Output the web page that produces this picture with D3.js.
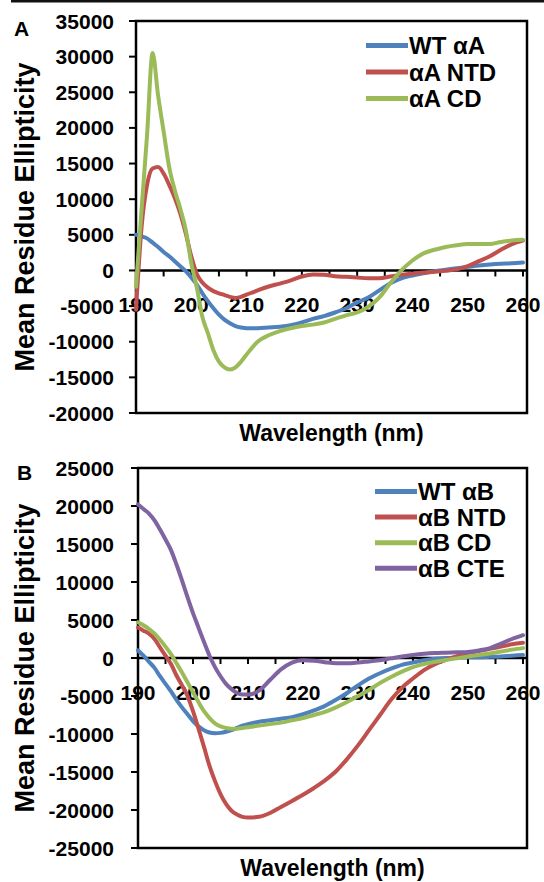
<!DOCTYPE html>
<html>
<head>
<meta charset="utf-8">
<script src="https://cdn.jsdelivr.net/npm/d3@7"></script>
<style>
  body { margin: 0; background: #fff; }
  svg { display: block; font-family: "Liberation Sans", Arial, sans-serif; font-weight: bold; }
</style>
</head>
<body>
<div id="chart"></div>
<script>
// wavelengths (nm) shared by every series
const wavelengths = [190, 191, 192, 193, 194, 195, 196, 197, 198, 199, 200, 201, 202, 203, 204, 205, 206, 207, 208, 209,
  210, 212, 214, 216, 218, 220, 222, 224, 226, 228, 230, 232, 234, 236, 238, 240, 242, 244, 246, 248, 250, 252, 254, 256, 258, 260];

// panel A
const wtA = [5000, 4800, 4500, 3900, 3300, 2600, 2000, 1300, 600, -100, -1000, -2000, -3200, -4300, -5300, -6200, -6900, -7400, -7800, -8000,
  -8100, -8100, -8000, -7900, -7700, -7300, -6800, -6400, -5900, -5300, -4500, -3800, -2800, -1800, -1100, -700, -400, -100, 100, 300, 500, 700, 850, 950, 1000, 1100];
const ntdA = [-5500, 6000, 12000, 14300, 14500, 13600, 12000, 10200, 8000, 5200, 2000, -500, -1700, -2400, -2900, -3200, -3450, -3700, -3850, -3700,
  -3400, -2800, -2250, -1850, -1400, -850, -550, -600, -800, -900, -1000, -1100, -1100, -850, -600, -450, -300, -200, -50, 150, 600, 1300, 2000, 2900, 3700, 4200];
const cdA = [-2300, 8500, 19000, 30500, 24500, 19500, 14500, 11300, 8700, 5700, 1000, -2400, -6500, -8800, -11200, -12800, -13600, -13900, -13600, -12800,
  -11800, -10000, -9100, -8500, -8100, -7800, -7600, -7300, -6800, -6300, -5900, -5100, -3800, -1800, 0, 1400, 2400, 2900, 3300, 3550, 3700, 3700, 3700, 4000, 4200, 4300];

// panel B
const wtB = [1000, 300, -500, -1300, -2400, -3400, -4400, -5500, -6500, -7400, -8300, -9000, -9500, -9800, -9900, -9850, -9700, -9500, -9200, -8900,
  -8700, -8400, -8200, -8000, -7800, -7400, -6900, -6300, -5500, -4600, -3600, -2700, -2000, -1400, -900, -600, -300, -100, 0, 50, 100, 100, 150, 200, 300, 400];
const ntdB = [4000, 3600, 3200, 2500, 1400, 300, -800, -2300, -3600, -5000, -7000, -9300, -11700, -14200, -16200, -17900, -19200, -20100, -20600, -20900,
  -21000, -20900, -20400, -19600, -18800, -18000, -17100, -16100, -14900, -13300, -11500, -9500, -7500, -5500, -3900, -2700, -1600, -800, -250, 250, 600, 900, 1200, 1500, 1800, 2000];
const cdB = [4700, 4300, 3800, 3200, 2400, 1500, 500, -700, -1900, -3200, -4500, -5800, -7000, -7900, -8600, -9000, -9200, -9300, -9300, -9200,
  -9100, -8900, -8700, -8500, -8200, -7900, -7500, -7100, -6500, -5800, -5000, -4200, -3300, -2500, -1800, -1200, -800, -500, -250, -50, 200, 400, 600, 850, 1100, 1300];
const cteB = [20200, 19600, 19000, 18100, 16900, 15600, 14200, 12300, 10200, 8000, 5900, 4000, 2100, 300, -1200, -2400, -3400, -4100, -4600, -4800,
  -4800, -4300, -2900, -1500, -600, -300, -350, -550, -700, -700, -600, -450, -300, -50, 200, 400, 550, 650, 700, 750, 800, 1000, 1300, 1900, 2500, 3000];

const namesA = ["WT αA", "αA NTD", "αA CD"];
const namesB = ["WT αB", "αB NTD", "αB CD", "αB CTE"];
const colors = ["#4F81BD", "#C0504D", "#9BBB59", "#8064A2"];

const xTicks = [190, 200, 210, 220, 230, 240, 250, 260];
const xMinorTicks = d3.range(190, 261, 5);
const yTicksA = [35000, 30000, 25000, 20000, 15000, 10000, 5000, 0, -5000, -10000, -15000, -20000];
const yTicksB = [25000, 20000, 15000, 10000, 5000, 0, -5000, -10000, -15000, -20000, -25000];

const svg = d3.select("#chart").append("svg")
  .attr("width", 544)
  .attr("height", 882);

// thin rule across the top of the figure
svg.append("rect").attr("x", 11).attr("y", 0).attr("width", 533).attr("height", 2.5).attr("fill", "#111");

function drawPanel(opts) {
  const x = d3.scaleLinear().domain([190, 260]).range([opts.left, 523]);
  const y = d3.scaleLinear().domain([opts.yTicks[opts.yTicks.length - 1], opts.yTicks[0]]).range([opts.bottom, opts.top]);
  const g = svg.append("g");
  const right = 527;

  // panel letter
  g.append("text").attr("x", opts.letterX).attr("y", opts.letterY)
    .attr("font-size", 21).text(opts.letter);

  // y axis labels and ticks
  g.selectAll(".ylab").data(opts.yTicks).join("text")
    .attr("x", 114).attr("y", d => y(d) + 7.5)
    .attr("text-anchor", "end").attr("font-size", 21)
    .text(d => String(d));
  g.selectAll(".ytick").data(opts.yTicks).join("line")
    .attr("x1", opts.left - 7).attr("x2", opts.left)
    .attr("y1", d => y(d)).attr("y2", d => y(d))
    .attr("stroke", "#000").attr("stroke-width", 2);

  // x labels, sitting under the zero line
  g.selectAll(".xlab").data(xTicks).join("text")
    .attr("x", d => x(d)).attr("y", y(0) + 42)
    .attr("text-anchor", "middle").attr("font-size", 21)
    .text(d => d);

  // frame
  g.append("rect").attr("x", opts.left).attr("y", opts.top)
    .attr("width", right - opts.left).attr("height", opts.bottom - opts.top)
    .attr("fill", "none").attr("stroke", "#000").attr("stroke-width", 2.5);

  // zero axis with ticks
  g.append("line").attr("x1", opts.left).attr("x2", right)
    .attr("y1", y(0)).attr("y2", y(0))
    .attr("stroke", "#000").attr("stroke-width", 2.5);
  g.selectAll(".xtick").data(xMinorTicks).join("line")
    .attr("x1", d => x(d)).attr("x2", d => x(d))
    .attr("y1", y(0)).attr("y2", y(0) + 6)
    .attr("stroke", "#000").attr("stroke-width", 2);

  // curves
  const line = d3.line()
    .x((d, i) => x(wavelengths[i]))
    .y(d => y(d))
    .curve(d3.curveMonotoneX);
  opts.series.forEach((s, i) => {
    g.append("path").attr("d", line(s))
      .attr("fill", "none").attr("stroke", colors[i])
      .attr("stroke-width", 4).attr("stroke-linejoin", "round").attr("stroke-linecap", "round");
  });

  // legend
  opts.names.forEach((name, i) => {
    const ly = opts.legendY + i * opts.legendStep;
    g.append("line").attr("x1", opts.legendX).attr("x2", opts.legendX + 42)
      .attr("y1", ly).attr("y2", ly)
      .attr("stroke", colors[i]).attr("stroke-width", 5);
    g.append("text").attr("x", opts.legendX + 43).attr("y", ly + 8.5)
      .attr("font-size", 24).text(name);
  });

  // axis titles
  g.append("text").attr("x", (opts.left + right) / 2).attr("y", opts.xTitleY)
    .attr("text-anchor", "middle").attr("font-size", 23)
    .text("Wavelength (nm)");
  g.append("text")
    .attr("transform", `translate(34,${(opts.top + opts.bottom) / 2}) rotate(-90)`)
    .attr("text-anchor", "middle").attr("font-size", 27)
    .text("Mean Residue Ellipticity");
}

drawPanel({
  letter: "A", letterX: 14, letterY: 36,
  left: 136, top: 21, bottom: 413,
  yTicks: yTicksA,
  series: [wtA, ntdA, cdA], names: namesA,
  legendX: 366, legendY: 45.5, legendStep: 26.5,
  xTitleY: 441
});

drawPanel({
  letter: "B", letterX: 17, letterY: 480,
  left: 138, top: 468, bottom: 848,
  yTicks: yTicksB,
  series: [wtB, ntdB, cdB, cteB], names: namesB,
  legendX: 375, legendY: 491.5, legendStep: 25.6,
  xTitleY: 876
});
</script>
</body>
</html>
